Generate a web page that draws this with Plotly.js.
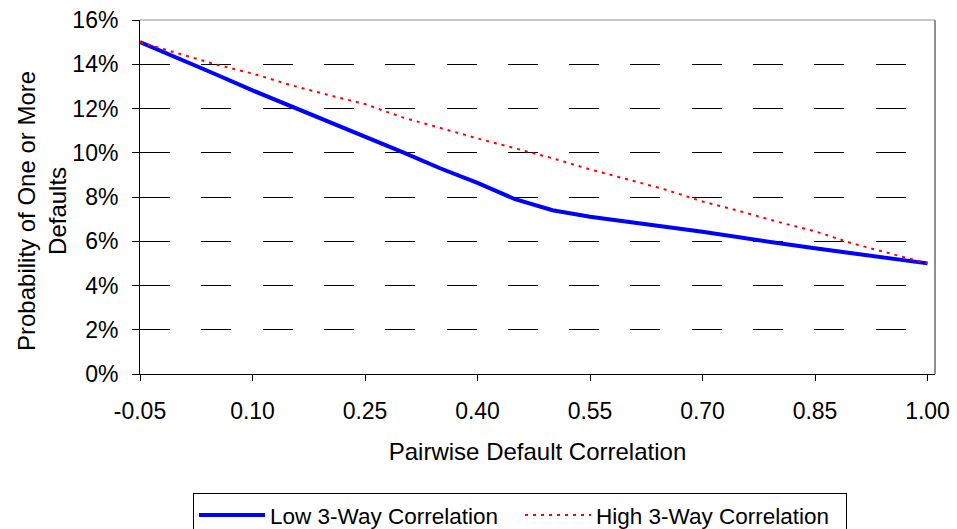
<!DOCTYPE html>
<html>
<head>
<meta charset="utf-8">
<script src="https://cdn.plot.ly/plotly-3.0.1.min.js"></script>
<style>
html,body{margin:0;padding:0;background:#fff;}
#chart{width:957px;height:529px;}
</style>
</head>
<body>
<div id="chart"></div>
<script>
// Pairwise default correlation (x) read at 0.05 steps
const correlation = [-0.05, 0.00, 0.05, 0.10, 0.15, 0.20, 0.25, 0.30, 0.35, 0.40, 0.45,
                     0.50, 0.55, 0.60, 0.65, 0.70, 0.75, 0.80, 0.85, 0.90, 0.95, 1.00];
// Probability of one or more defaults, in percent
const lowThreeWay  = [15.0, 14.3, 13.56, 12.82, 12.13, 11.45, 10.75, 10.03, 9.3, 8.64, 7.9,
                      7.4, 7.11, 6.9, 6.66, 6.43, 6.16, 5.92, 5.68, 5.45, 5.22, 5.0];
const highThreeWay = [15.0, 14.5, 14.0, 13.58, 13.07, 12.62, 12.2, 11.6, 11.12, 10.65, 10.2,
                      9.75, 9.25, 8.78, 8.34, 7.8, 7.36, 6.88, 6.45, 5.9, 5.45, 5.0];
const xTickVals = [-0.05, 0.10, 0.25, 0.40, 0.55, 0.70, 0.85, 1.00];
const xTickText = ["-0.05", "0.10", "0.25", "0.40", "0.55", "0.70", "0.85", "1.00"];
const yTickVals = [0, 2, 4, 6, 8, 10, 12, 14, 16];
const yTickText = ["0%", "2%", "4%", "6%", "8%", "10%", "12%", "14%", "16%"];
const seriesNames = ["Low 3-Way Correlation", "High 3-Way Correlation"];

const FONT = "Liberation Sans, Arial, sans-serif";

const traces = [
  {x: correlation, y: lowThreeWay, name: seriesNames[0], type: "scatter", mode: "lines",
   line: {color: "#0000ff", width: 4}},
  {x: correlation, y: highThreeWay, name: seriesNames[1], type: "scatter", mode: "lines",
   line: {color: "#ff0000", width: 2, dash: "3px,5px"}}
];

const layout = {
  width: 957, height: 529,
  margin: {l: 140, r: 22, t: 20, b: 155},
  paper_bgcolor: "#ffffff", plot_bgcolor: "#ffffff",
  font: {family: FONT, size: 23, color: "#000"},
  showlegend: true,
  legend: {orientation: "h", xref: "container", yref: "container",
           x: 0.2017, xanchor: "left", y: 0.0681, yanchor: "top",
           bordercolor: "#000", borderwidth: 1, bgcolor: "#fff",
           font: {family: FONT, size: 22.5, color: "#000"},
           itemwidth: 66, entrywidth: 245, entrywidthmode: "pixels", tracegroupgap: 0},
  xaxis: {
    range: [-0.05, 1.01], tickvals: xTickVals, ticktext: xTickText,
    showgrid: false, zeroline: false, showline: true, linecolor: "#000", linewidth: 1,
    ticks: "outside", ticklen: 6, tickcolor: "#000", ticklabelstandoff: 10,
    tickfont: {family: FONT, size: 23, color: "#000"},
    title: {text: "Pairwise Default Correlation", font: {family: FONT, size: 24, color: "#000"}, standoff: 20}
  },
  yaxis: {
    range: [0, 16], tickvals: yTickVals, ticktext: yTickText,
    showgrid: true, gridcolor: "#000", gridwidth: 1, griddash: "30px,31.3px",
    zeroline: false, showline: true, linecolor: "#000", linewidth: 1,
    ticks: "outside", ticklen: 7, tickcolor: "#000", ticklabelstandoff: 9,
    tickfont: {family: FONT, size: 23, color: "#000"}
  },
  annotations: [{
    text: "Probability of One or More<br>Defaults", xref: "paper", yref: "paper",
    x: -0.1235, y: 0.46, xanchor: "center", yanchor: "middle", textangle: -90,
    showarrow: false, font: {family: FONT, size: 24, color: "#000"}
  }],
  shapes: [
    {type: "line", xref: "paper", yref: "paper", x0: 0, x1: 1, y0: 1, y1: 1,
     line: {color: "#909090", width: 1}},
    {type: "line", xref: "paper", yref: "paper", x0: 1, x1: 1, y0: 0, y1: 1,
     line: {color: "#909090", width: 2}}
  ]
};

Plotly.newPlot("chart", traces, layout, {displayModeBar: false, responsive: false});
</script>
</body>
</html>
